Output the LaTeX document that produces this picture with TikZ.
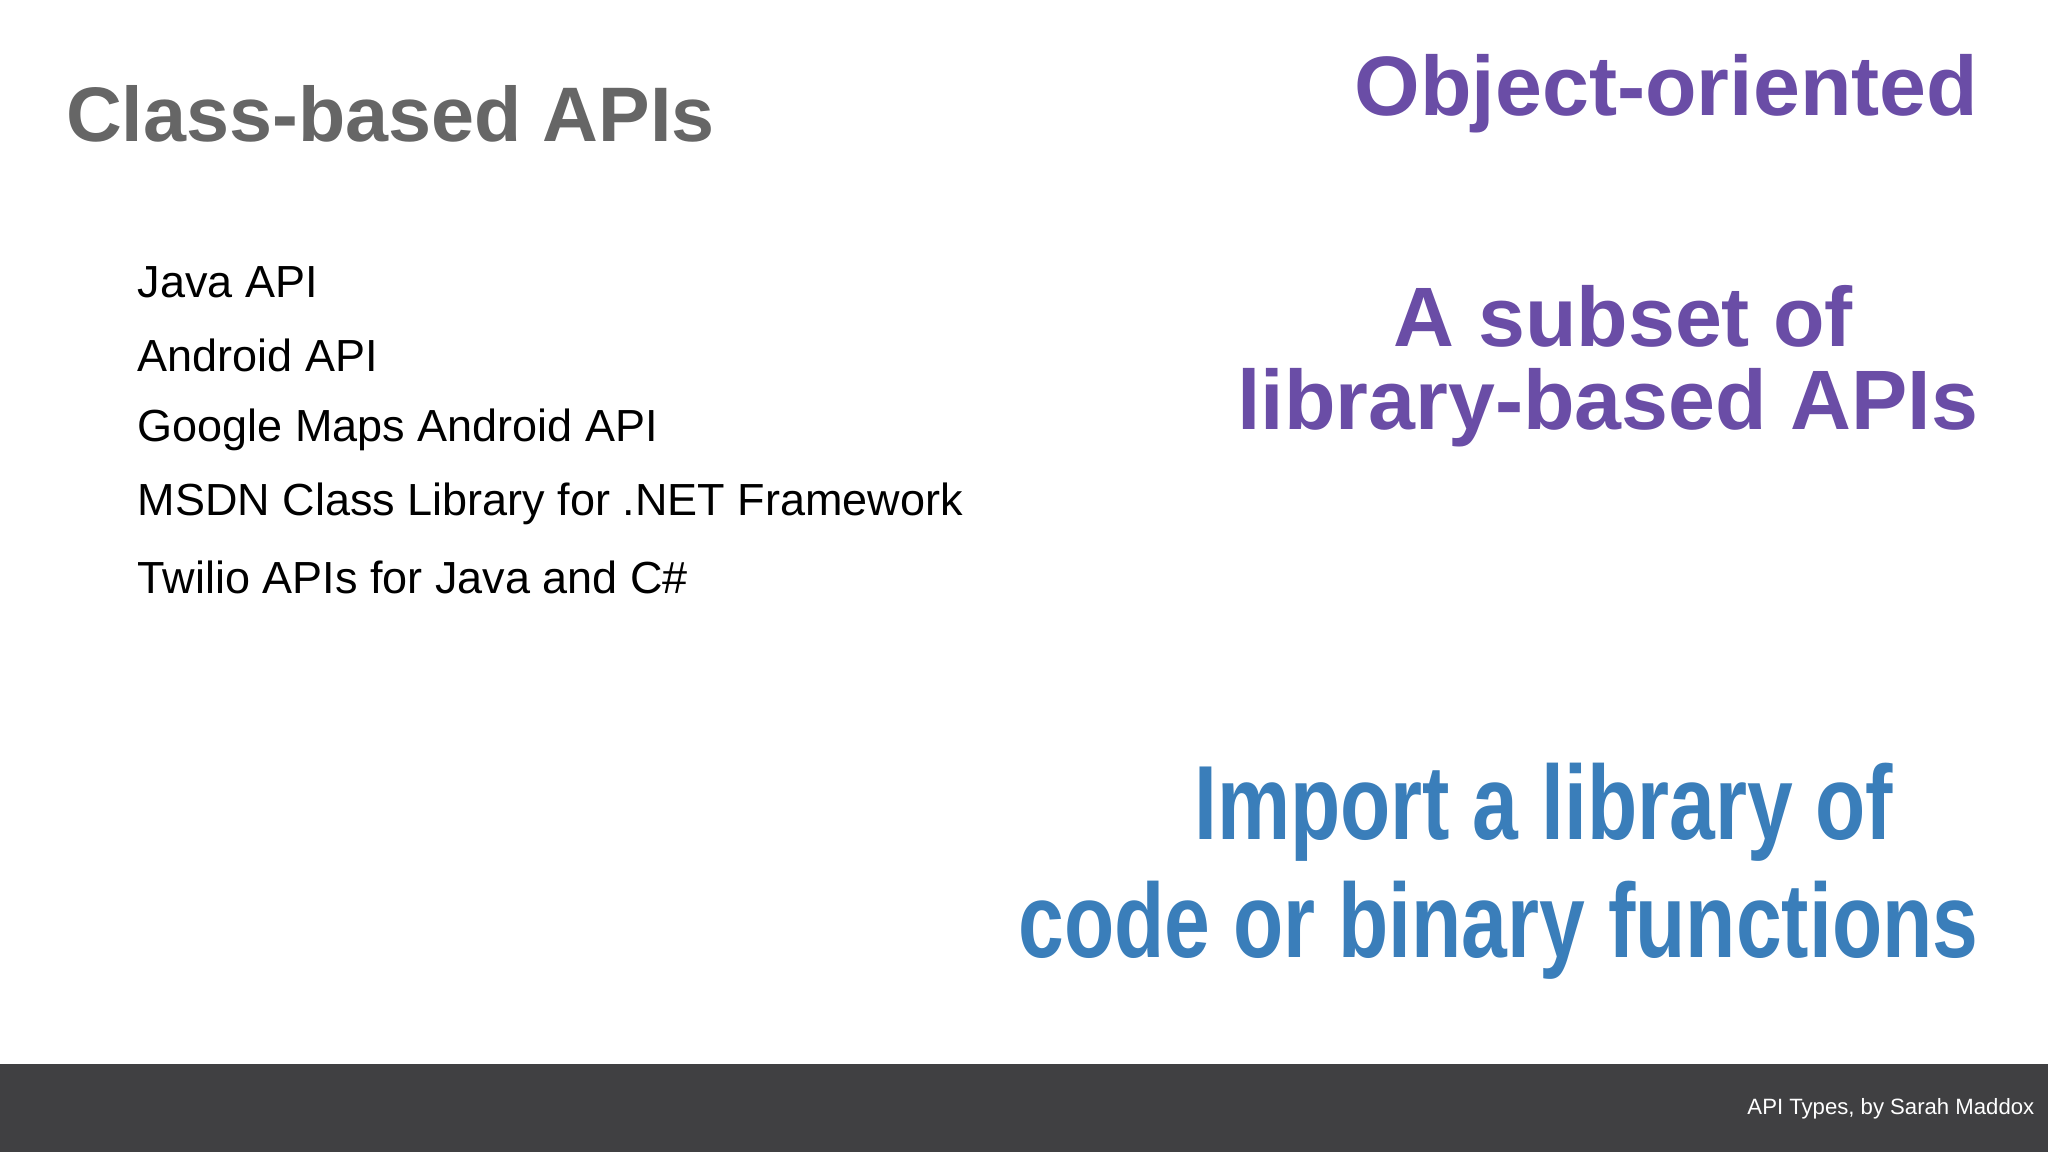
\documentclass[tikz,border=0pt]{standalone}
\usepackage{fontspec}
\setmainfont{Liberation Sans}
\definecolor{titlegrey}{HTML}{666666}
\definecolor{purp}{HTML}{6A4DA6}
\definecolor{blu}{HTML}{3A7EBA}
\definecolor{bar}{HTML}{404042}
\begin{document}
\begin{tikzpicture}[x=0.01306cm,y=-0.01306cm,
  item/.style={anchor=west,inner sep=0,font=\fontsize{12.8pt}{14pt}\selectfont},
  big/.style={inner sep=0,text=purp,font=\fontsize{24pt}{28pt}\selectfont\bfseries},
  blue/.style={inner sep=0,text=blu,xscale=0.78,font=\fontsize{30pt}{34pt}\selectfont\bfseries}]
\useasboundingbox (0,0) rectangle (1568,882);
\fill[white] (0,0) rectangle (1568,882);
\fill[bar] (0,815) rectangle (1568,882);
\node[anchor=east,inner sep=0,text=white,font=\fontsize{6.3pt}{7pt}\selectfont] (foot) at (1558,849) {API Types, by Sarah Maddox};
\node[anchor=west,inner sep=0,text=titlegrey,font=\fontsize{22pt}{26pt}\selectfont\bfseries] (title) at (50,87) {Class-based APIs};
\node[item] (i1) at (105,216) {Java API};
\node[item] (i2) at (105,272) {Android API};
\node[item] (i3) at (105,329) {Google Maps Android API};
\node[item] (i4) at (105,386) {MSDN Class Library for .NET Framework};
\node[item] (i5) at (105,442) {Twilio APIs for Java and C\#};
\node[big,anchor=east] (oo) at (1515,72) {Object-oriented};
\node[big] (s1) at (1243,242) {A subset of};
\node[big,anchor=east] (s2) at (1515,312) {library-based APIs};
\node[blue] (b1) at (1182,622) {Import a library of};
\node[blue,anchor=east] (b2) at (1515,712) {code or binary functions};
\end{tikzpicture}
\end{document}
